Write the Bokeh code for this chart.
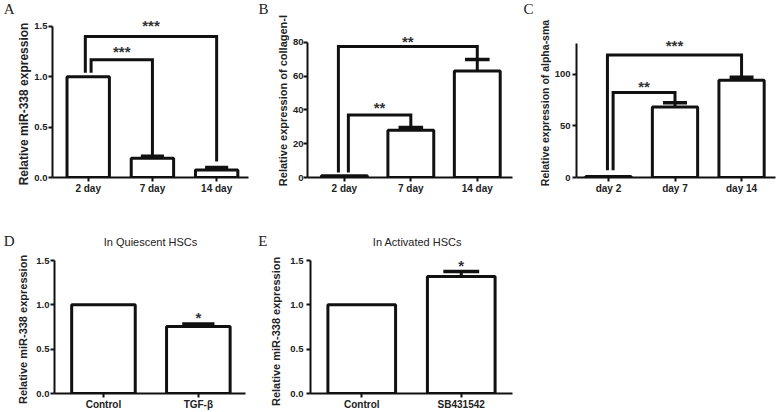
from bokeh.plotting import figure
from bokeh.models import Range1d, FixedTicker, Label, NumeralTickFormatter, LinearAxis
from bokeh.layouts import row, column
from bokeh.embed import file_html
from bokeh.resources import INLINE
from bokeh.core.properties import value

FONT = "Liberation Sans"
SERIF = "Liberation Serif"
INK = "#111111"
GREY = "#222222"

# ---------------- data ----------------
# Panel A
a_cats = ["2 day", "7 day", "14 day"]
a_mean = [1.0, 0.19, 0.075]
a_err = [0.0, 0.02, 0.025]
a_yticks = [0.0, 0.5, 1.0, 1.5]
a_sig_from = [1.045, 0.955]
a_sig_to = [2, 3]
a_sig_top = [1.17, 1.40]
a_sig_from_end = [1.04, 1.04]
a_sig_to_end = [0.22, 0.16]
a_sig_text = ["***", "***"]
a_sig_text_y = [1.29, 1.55]

# Panel B
b_cats = ["2 day", "7 day", "14 day"]
b_mean = [1.0, 28.0, 63.0]
b_err = [0.0, 1.6, 6.8]
b_yticks = [0, 20, 40, 60, 80]
b_sig_from = [1.06, 0.91]
b_sig_to = [2, 3]
b_sig_top = [37.0, 77.4]
b_sig_from_end = [3.0, 3.0]
b_sig_to_end = [29.6, 69.8]
b_sig_text = ["**", "**"]
b_sig_text_y = [44.0, 83.0]

# Panel C
c_cats = ["day 2", "day 7", "day 14"]
c_mean = [1.0, 68.5, 94.5]
c_err = [0.0, 4.0, 2.8]
c_yticks = [0, 50, 100]
c_sig_from = [1.07, 0.985]
c_sig_to = [2, 3]
c_sig_top = [82.5, 119.0]
c_sig_from_end = [7.0, 7.0]
c_sig_to_end = [72.5, 97.3]
c_sig_text = ["**", "***"]
c_sig_text_y = [92.7, 131.8]

# Panel D
d_cats = ["Control", "TGF-β"]
d_mean = [1.0, 0.755]
d_err = [0.0, 0.03]
d_yticks = [0.0, 0.5, 1.0, 1.5]
d_star_pos = [2]
d_star_y = [0.9]
d_star_text = ["*"]

# Panel E
e_cats = ["Control", "SB431542"]
e_mean = [1.0, 1.32]
e_err = [0.0, 0.055]
e_yticks = [0.0, 0.5, 1.0, 1.5]
e_star_pos = [2]
e_star_y = [1.49]
e_star_text = ["*"]


def text_axis(p, at, text, standoff, font, size, style, orientation):
    ax = LinearAxis(ticker=FixedTicker(ticks=[at]), major_label_overrides={at: text},
                    axis_line_color=None, major_tick_line_color=None,
                    minor_tick_line_color=None, major_tick_in=0, major_tick_out=0,
                    minor_tick_in=0, minor_tick_out=0,
                    major_label_standoff=standoff, major_label_orientation=orientation,
                    major_label_text_font=font, major_label_text_font_size=size,
                    major_label_text_font_style=style, major_label_text_color=GREY)
    p.add_layout(ax, "left")
    return ax


def panel(w, h, borders, xr, yr, cats, mean, err, yticks, ybound, fmt, bar_w, cap_w,
          tick_standoff, ylabel, ylabel_size, ylabel_at, ylabel_standoff,
          letter, letter_at, letter_standoff, title=None, title_xy=None):
    bl, br, bt, bb = borders
    p = figure(width=w, height=h, x_range=Range1d(*xr), y_range=Range1d(*yr),
               output_backend="svg", toolbar_location=None,
               min_border_left=bl, min_border_right=br,
               min_border_top=bt, min_border_bottom=bb)
    p.outline_line_color = None
    p.xgrid.visible = False
    p.ygrid.visible = False
    p.background_fill_color = "white"

    xs = list(range(1, len(cats) + 1))
    p.vbar(x=xs, top=mean, bottom=0, width=bar_w, fill_color="white",
           line_color=INK, line_width=3)

    ex = [x for x, e in zip(xs, err) if e > 0]
    lo = [m for m, e in zip(mean, err) if e > 0]
    hi = [m + e for m, e in zip(mean, err) if e > 0]
    p.segment(x0=ex, y0=lo, x1=ex, y1=hi, line_color=INK, line_width=3)
    p.segment(x0=[x - cap_w / 2 for x in ex], y0=hi, x1=[x + cap_w / 2 for x in ex], y1=hi,
              line_color=INK, line_width=3.5)

    # axes
    xa, ya = p.xaxis[0], p.yaxis[0]
    for ax in (xa, ya):
        ax.axis_line_width = 2
        ax.axis_line_color = INK
        ax.major_tick_line_width = 2
        ax.major_tick_line_color = INK
        ax.major_tick_in = 0
        ax.major_tick_out = 4
        ax.minor_tick_in = 0
        ax.minor_tick_out = 0
        ax.minor_tick_line_color = None
        ax.major_label_text_font = FONT
        ax.major_label_text_font_style = "bold"
        ax.major_label_text_color = GREY
    xa.ticker = FixedTicker(ticks=xs)
    xa.major_label_overrides = {x: c for x, c in zip(xs, cats)}
    xa.major_label_text_font_size = "10px"
    xa.major_label_standoff = 1
    ya.ticker = FixedTicker(ticks=yticks)
    ya.bounds = ybound
    ya.formatter = NumeralTickFormatter(format=fmt)
    ya.major_label_text_font_size = "9.5px"
    ya.major_label_standoff = tick_standoff

    # y title and panel letter as outer, line-less axes
    text_axis(p, ylabel_at, ylabel, ylabel_standoff, FONT, ylabel_size, "bold", "vertical")
    text_axis(p, letter_at, letter, letter_standoff, SERIF, "15px", "normal", "horizontal")

    if title:
        p.add_layout(Label(x=title_xy[0], y=title_xy[1], x_units="screen", y_units="screen",
                           text=title, text_align="center", text_baseline="middle",
                           text_font=FONT, text_font_size="11px", text_color=GREY))
    return p


def add_brackets(p, f, t, top, fe, te, texts, ty):
    p.multi_line(xs=[[a, a, b, b] for a, b in zip(f, t)],
                 ys=[[ya, yt, yt, yb] for ya, yt, yb in zip(fe, top, te)],
                 line_color=INK, line_width=3, line_join="miter")
    p.text(x=[(a + b) / 2 for a, b in zip(f, t)], y=ty, text=texts,
           text_align="center", text_baseline="middle", y_offset=4,
           text_font=value(FONT), text_font_size="15px", text_font_style="bold",
           text_color="#333333")


def add_stars(p, xs, ys, texts):
    p.text(x=xs, y=ys, text=texts, text_align="center", text_baseline="middle", y_offset=4,
           text_font=value(FONT), text_font_size="15px", text_font_style="bold",
           text_color="#333333")


pa = panel(255, 222, (46, 7, 3, 45), (0.444, 3.496), (0, 1.728), a_cats, a_mean, a_err,
           a_yticks, (0, 1.5), "0.0", 0.66, 0.36, 1,
           "Relative miR-338 expression", "12px", 0.73, 0,
           "A", 1.679, 0)
add_brackets(pa, a_sig_from, a_sig_to, a_sig_top, a_sig_from_end, a_sig_to_end,
             a_sig_text, a_sig_text_y)

pb = panel(265, 222, (46, 8, 3, 45), (0.445, 3.53), (0, 102.9), b_cats, b_mean, b_err,
           b_yticks, (0, 80), "0", 0.69, 0.37, 0,
           "Relative expression of collagen-I", "11px", 45.5, 0,
           "B", 99.9, 6)
add_brackets(pb, b_sig_from, b_sig_to, b_sig_top, b_sig_from_end, b_sig_to_end,
             b_sig_text, b_sig_text_y)

pc = panel(258, 222, (50, 3, 3, 45), (0.52, 3.51), (0, 168.9), c_cats, c_mean, c_err,
           c_yticks, (0, 130), "0", 0.68, 0.36, 2,
           "Relative expression of alpha-sma", "10.5px", 72.3, 0,
           "C", 164.1, 3)
add_brackets(pc, c_sig_from, c_sig_to, c_sig_top, c_sig_from_end, c_sig_to_end,
             c_sig_text, c_sig_text_y)

pd = panel(255, 190, (47, 10, 6, 19), (0.484, 2.497), (0, 1.861), d_cats, d_mean, d_err,
           d_yticks, (0, 1.5), "0.0", 0.67, 0.34, 1,
           "Relative miR-338 expression", "11px", 0.722, 4,
           "D", 1.725, 0, "In Quiescent HSCs", (96, 152))
add_stars(pd, d_star_pos, d_star_y, d_star_text)

pe = panel(265, 190, (50, 8, 6, 19), (0.485, 2.515), (0, 1.861), e_cats, e_mean, e_err,
           e_yticks, (0, 1.5), "0.0", 0.68, 0.36, 3,
           "Relative miR-338 expression", "11px", 0.70, 5,
           "E", 1.725, 0, "In Activated HSCs", (107, 152))
add_stars(pe, e_star_pos, e_star_y, e_star_text)

layout = column(row(pa, pb, pc), row(pd, pe))
open("out.html", "w").write(file_html(layout, INLINE))
